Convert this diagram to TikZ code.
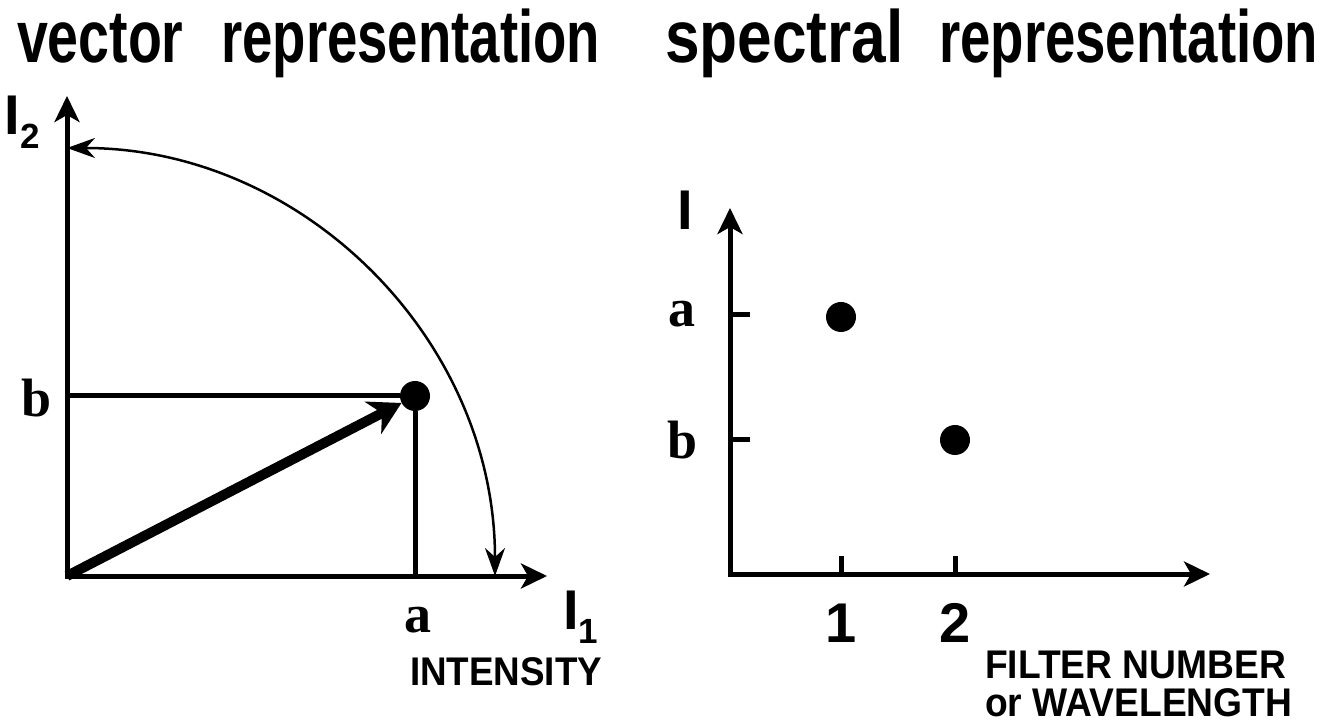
\documentclass[tikz,border=0pt]{standalone}
\usepackage{fontspec}
\setmainfont{Liberation Serif}
\setsansfont{Liberation Sans}
\usetikzlibrary{arrows.meta}
\tikzset{
  axisline/.style={line width=5pt, line join=miter,
    {Stealth[length=26pt,width=25pt,inset=7pt]}-{Stealth[length=26pt,width=25pt,inset=7pt]}},
  guide/.style={line width=5pt},
  arcline/.style={line width=2.5pt,
    {Stealth[length=28pt,width=20pt,inset=9pt]}-{Stealth[length=28pt,width=20pt,inset=9pt]}},
  vecline/.style={line width=10pt, -{Stealth[length=32pt,width=36pt,inset=10pt]}},
  dot/.style={circle, fill=black, minimum size=30pt, inner sep=0pt},
  lbl/.style={inner sep=0pt, outer sep=0pt},
  titlef/.style={lbl, font=\sffamily\bfseries\fontsize{74}{80}\selectfont},
  capsf/.style={lbl, font=\sffamily\bfseries\fontsize{40}{44}\selectfont},
  serifl/.style={lbl, font=\rmfamily\bfseries\fontsize{54}{60}\selectfont},
  sansl/.style={lbl, font=\sffamily\bfseries\fontsize{56}{60}\selectfont},
}
\newcommand{\subl}[1]{\raisebox{-14pt}{\fontsize{35}{40}\selectfont #1}}
\begin{document}
\begin{tikzpicture}[x=1pt,y=1pt]
\useasboundingbox (0,0) rectangle (1333,726);
% titles
\node[titlef, anchor=base west] (t1) at (17,663) {\scalebox{0.75}[1]{vector}};
\node[titlef, anchor=base east] (t2) at (600,663) {\scalebox{0.737}[1]{representation}};
\node[titlef, anchor=base west] (t3) at (665,663) {\scalebox{0.84}[1]{spectral}};
\node[titlef, anchor=base east] (t4) at (1318,663) {\scalebox{0.737}[1]{representation}};

% ---------- left plot ----------
\coordinate (O1) at (67,150);
\coordinate (Y1) at (67,630);
\coordinate (X1) at (547,150);
\coordinate (R0) at (495,150);
\draw[axisline] (Y1) -- (O1) -- (X1);
\node[dot] (P) at (415,330) {};
\draw[guide] (O1 |- P) -- (P);
\draw[guide] (P) -- (P |- O1);
\draw[vecline] (O1) -- (P);
\draw[arcline] (R0) arc[start angle=0, end angle=90, radius=428];

\node[sansl, anchor=base west] (i2) at (5,591) {I\subl{2}};
\node[sansl, anchor=base west] (i1) at (563,97) {I\subl{1}};
\node[serifl, anchor=base] (lb) at (37,309) {b};
\node[serifl, anchor=base] (la) at (418,94) {a};
\node[capsf, anchor=base west] (int) at (410,41) {\scalebox{0.92}[1]{INTENSITY}};

% ---------- right plot ----------
\coordinate (O2) at (730,152);
\coordinate (Y2) at (730,518);
\coordinate (X2) at (1210,152);
\draw[axisline] (Y2) -- (O2) -- (X2);
\coordinate (ta) at (730,411);
\coordinate (tb) at (730,286);
\coordinate (ta2) at (750,411);
\coordinate (tb2) at (750,286);
\draw[guide] (ta) -- (ta2);
\draw[guide] (tb) -- (tb2);
\coordinate (t1a) at (841,152);
\coordinate (t1b) at (841,170);
\coordinate (t2a) at (955,152);
\coordinate (t2b) at (955,170);
\draw[guide] (t1a) -- (t1b);
\draw[guide] (t2a) -- (t2b);
\node[dot] (A) at (841,409) {};
\node[dot] (B) at (955,286) {};

\node[sansl, anchor=base west] (iy) at (677,496) {I};
\node[serifl, anchor=base] (ra) at (682,399) {a};
\node[serifl, anchor=base] (rb) at (683,267) {b};
\node[sansl, anchor=base] (n1) at (841,84) {1};
\node[sansl, anchor=base] (n2) at (955,84) {2};
\node[capsf, anchor=base west] (f1) at (985,48) {\scalebox{0.93}[1]{FILTER NUMBER}};
\node[capsf, anchor=base west] (f2) at (985,10) {\scalebox{0.93}[1]{or WAVELENGTH}};
\end{tikzpicture}
\end{document}
